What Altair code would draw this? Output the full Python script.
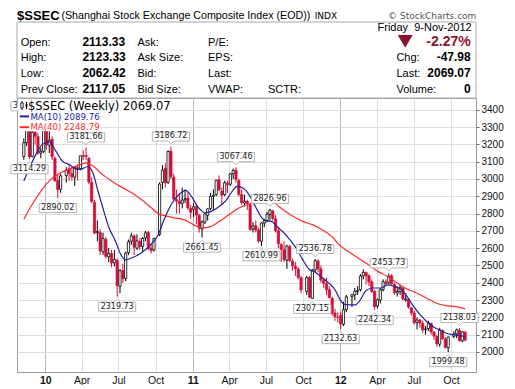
import altair as alt
import pandas as pd

# ---------------- weekly candles (week starting Monday) ----------------
weeks = [
    "2009-11-09", "2009-11-16", "2009-11-23", "2009-11-30", "2009-12-07", "2009-12-14", "2009-12-21", "2009-12-28",
    "2010-01-04", "2010-01-11", "2010-01-18", "2010-01-25", "2010-02-01", "2010-02-08", "2010-02-22",
    "2010-03-01", "2010-03-08", "2010-03-15", "2010-03-22", "2010-03-29", "2010-04-05", "2010-04-12",
    "2010-04-19", "2010-04-26", "2010-05-03", "2010-05-10", "2010-05-17", "2010-05-24", "2010-05-31",
    "2010-06-07", "2010-06-14", "2010-06-21", "2010-06-28", "2010-07-05", "2010-07-12", "2010-07-19",
    "2010-07-26", "2010-08-02", "2010-08-09", "2010-08-16", "2010-08-23", "2010-08-30", "2010-09-06",
    "2010-09-13", "2010-09-20", "2010-09-27", "2010-10-11", "2010-10-18", "2010-10-25", "2010-11-01",
    "2010-11-08", "2010-11-15", "2010-11-22", "2010-11-29", "2010-12-06", "2010-12-13", "2010-12-20",
    "2010-12-27",
    "2011-01-03", "2011-01-10", "2011-01-17", "2011-01-24", "2011-01-31", "2011-02-07", "2011-02-14",
    "2011-02-21", "2011-02-28", "2011-03-07", "2011-03-14", "2011-03-21", "2011-03-28", "2011-04-04",
    "2011-04-11", "2011-04-18", "2011-04-25", "2011-05-02", "2011-05-09", "2011-05-16", "2011-05-23",
    "2011-05-30", "2011-06-06", "2011-06-13", "2011-06-20", "2011-06-27", "2011-07-04", "2011-07-11",
    "2011-07-18", "2011-07-25", "2011-08-01", "2011-08-08", "2011-08-15", "2011-08-22", "2011-08-29",
    "2011-09-05", "2011-09-12", "2011-09-19", "2011-09-26", "2011-10-10", "2011-10-17", "2011-10-24",
    "2011-10-31", "2011-11-07", "2011-11-14", "2011-11-21", "2011-11-28", "2011-12-05", "2011-12-12",
    "2011-12-19", "2011-12-26",
    "2012-01-02", "2012-01-09", "2012-01-16", "2012-01-30", "2012-02-06", "2012-02-13", "2012-02-20",
    "2012-02-27", "2012-03-05", "2012-03-12", "2012-03-19", "2012-03-26", "2012-04-02", "2012-04-09",
    "2012-04-16", "2012-04-23", "2012-04-30", "2012-05-07", "2012-05-14", "2012-05-21", "2012-05-28",
    "2012-06-04", "2012-06-11", "2012-06-18", "2012-06-25", "2012-07-02", "2012-07-09", "2012-07-16",
    "2012-07-23", "2012-07-30", "2012-08-06", "2012-08-13", "2012-08-20", "2012-08-27", "2012-09-03",
    "2012-09-10", "2012-09-17", "2012-09-24", "2012-10-08", "2012-10-15", "2012-10-22", "2012-10-29",
    "2012-11-05",
]
opens = [
    3130, 3210, 3300, 3130, 3270, 3245, 3150, 3160,
    3290, 3195, 3230, 3120, 2990, 2940, 3020, 3060, 3030, 3010, 3065, 3060, 3135, 3135, 3120, 2980,
    2865, 2690, 2690, 2580, 2650, 2550, 2570, 2515, 2530, 2380, 2470, 2425, 2575, 2640, 2670, 2600,
    2640, 2610, 2660, 2690, 2600, 2590, 2680, 2980, 3060, 2980, 3160, 3010, 2880, 2870, 2860, 2880,
    2890, 2830,
    2825, 2840, 2790, 2710, 2750, 2790, 2830, 2900, 2910, 2995, 2930, 2910, 2975, 2970, 3030, 3050,
    2990, 2910, 2860, 2870, 2850, 2710, 2730, 2705, 2640, 2745, 2760, 2795, 2815, 2770, 2700, 2620,
    2590, 2530, 2610, 2525, 2495, 2480, 2430, 2350, 2430, 2310, 2475, 2525, 2480, 2415, 2395, 2360,
    2310, 2225, 2200,
    2210, 2160, 2245, 2320, 2330, 2350, 2360, 2440, 2460, 2440, 2405, 2350, 2265, 2300, 2360, 2405,
    2400, 2440, 2390, 2340, 2350, 2370, 2300, 2305, 2255, 2225, 2170, 2185, 2165, 2130, 2135, 2165,
    2115, 2090, 2045, 2125, 2075, 2025, 2090, 2105, 2125, 2065, 2113.33,
]
highs = [
    3235, 3311, 3361.39, 3290, 3310, 3265, 3180, 3285,
    3306, 3277, 3246, 3130, 3030, 3030, 3070, 3090, 3070, 3075, 3085, 3135, 3165, 3181.66, 3125, 3010,
    2880, 2760, 2710, 2690, 2665, 2600, 2590, 2590, 2540, 2480, 2510, 2580, 2650, 2690, 2680, 2680,
    2660, 2665, 2700, 2700, 2630, 2660, 2980, 3080, 3090, 3165, 3186.72, 3030, 2940, 2920, 2950, 2940,
    2920, 2850,
    2860, 2850, 2800, 2760, 2800, 2830, 2920, 2940, 2995, 3020, 2950, 2990, 2990, 3035, 3060, 3067.46,
    3000, 2940, 2910, 2880, 2860, 2750, 2760, 2720, 2750, 2770, 2810, 2826.96, 2822, 2790, 2720, 2630,
    2640, 2620, 2620, 2540, 2520, 2490, 2440, 2440, 2440, 2480, 2536.78, 2535, 2500, 2430, 2430, 2380,
    2320, 2250, 2230,
    2230, 2290, 2330, 2335, 2370, 2380, 2450, 2478, 2465, 2450, 2420, 2360, 2310, 2370, 2420, 2420,
    2453.73, 2450, 2400, 2380, 2390, 2380, 2340, 2310, 2260, 2240, 2200, 2190, 2180, 2150, 2180, 2170,
    2120, 2100, 2140, 2130, 2085, 2090, 2120, 2135, 2138.03, 2120, 2123.33,
]
lows = [
    3110, 3190, 3114.29, 3125, 3200, 3140, 3120, 3150,
    3170, 3150, 3110, 2985, 2890.02, 2920, 2980, 2990, 2990, 2960, 2990, 3050, 3110, 3110, 2970, 2860,
    2680, 2640, 2560, 2560, 2540, 2520, 2490, 2495, 2319.73, 2340, 2400, 2410, 2560, 2620, 2560, 2590,
    2590, 2580, 2640, 2590, 2570, 2580, 2670, 2940, 2950, 2970, 3000, 2880, 2800, 2800, 2830, 2860,
    2820, 2770,
    2780, 2740, 2690, 2661.45, 2740, 2760, 2820, 2820, 2900, 2930, 2850, 2900, 2920, 2960, 3000, 2980,
    2900, 2850, 2840, 2820, 2700, 2690, 2690, 2630, 2610.99, 2720, 2750, 2760, 2760, 2690, 2600, 2520,
    2520, 2480, 2520, 2470, 2440, 2420, 2340, 2330, 2310, 2307.15, 2460, 2460, 2400, 2370, 2330, 2310,
    2210, 2180, 2170,
    2132.63, 2150, 2230, 2260, 2300, 2330, 2350, 2420, 2390, 2380, 2340, 2242.34, 2250, 2280, 2350, 2380,
    2390, 2390, 2330, 2320, 2330, 2300, 2290, 2250, 2210, 2160, 2130, 2140, 2110, 2100, 2120, 2100,
    2070, 2030, 2030, 2070, 2020, 1999.48, 2080, 2080, 2060, 2055, 2062.42,
]
closes = [
    3210, 3308, 3128, 3270, 3247, 3150, 3160, 3277,
    3196, 3224, 3128, 2989, 2939, 3018, 3051, 3031, 3013, 3067, 3060, 3134, 3131, 3130, 2983, 2870,
    2688, 2697, 2584, 2656, 2553, 2569, 2514, 2535, 2383, 2470, 2424, 2572, 2637, 2672, 2606, 2642,
    2610, 2656, 2689, 2598, 2587, 2656, 2971, 3051, 2978, 3159, 3014, 2884, 2871, 2858, 2878, 2885,
    2833, 2808,
    2839, 2791, 2715, 2752, 2798, 2827, 2899, 2905, 2993, 2937, 2906, 2978, 2967, 3030, 3050, 2998,
    2911, 2864, 2871, 2858, 2709, 2728, 2705, 2642, 2746, 2759, 2797, 2820, 2772, 2701, 2626, 2593,
    2534, 2612, 2528, 2497, 2482, 2431, 2359, 2431, 2317, 2473, 2528, 2481, 2416, 2397, 2360, 2315,
    2224, 2204, 2199,
    2163, 2244, 2319, 2331, 2352, 2357, 2439, 2460, 2439, 2404, 2350, 2262, 2302, 2359, 2406, 2396,
    2438, 2394, 2344, 2350, 2373, 2306, 2306, 2260, 2225, 2169, 2185, 2168, 2128, 2133, 2168, 2116,
    2092, 2047, 2127, 2078, 2027, 2086, 2105, 2128, 2066, 2117.05, 2069.07,
]

# ---------------- moving averages ----------------
ma10_dates = [
    "2009-11-09", "2009-11-23", "2009-12-09", "2009-12-25", "2010-01-11", "2010-01-27", "2010-02-12",
    "2010-03-04", "2010-03-16", "2010-03-28", "2010-04-17", "2010-04-29", "2010-05-11", "2010-05-23",
    "2010-06-08", "2010-06-24", "2010-07-06", "2010-07-18", "2010-08-04", "2010-08-28", "2010-09-21",
    "2010-10-07", "2010-10-23", "2010-11-08", "2010-11-28", "2010-12-14", "2010-12-30", "2011-01-15",
    "2011-01-31", "2011-02-16", "2011-03-04", "2011-03-24", "2011-04-09", "2011-04-21", "2011-05-07",
    "2011-05-24", "2011-06-09", "2011-06-21", "2011-07-03", "2011-07-15", "2011-07-27", "2011-08-12",
    "2011-08-29", "2011-09-14", "2011-09-30", "2011-10-16", "2011-11-01", "2011-11-17", "2011-12-03",
    "2011-12-19", "2011-12-31", "2012-01-12", "2012-02-06", "2012-02-18", "2012-03-05", "2012-03-22",
    "2012-04-11", "2012-04-27", "2012-05-13", "2012-05-29", "2012-06-14", "2012-06-30", "2012-07-16",
    "2012-08-01", "2012-08-17", "2012-09-02", "2012-09-18", "2012-10-04", "2012-10-20", "2012-11-05",
]
ma10_vals = [
    2988, 3065, 3142, 3200, 3214, 3162, 3104, 3080, 3060, 3055, 3072, 3035, 2935, 2838,
    2717, 2640, 2568, 2533, 2545, 2575, 2625, 2675, 2770, 2850, 2910, 2934, 2895, 2835,
    2805, 2813, 2835, 2875, 2930, 2957, 2945, 2895, 2823, 2775, 2758, 2755, 2728, 2695,
    2650, 2600, 2534, 2478, 2460, 2430, 2400, 2360, 2305, 2275, 2272, 2295, 2355, 2370,
    2370, 2388, 2380, 2364, 2322, 2265, 2217, 2178, 2148, 2128, 2110, 2100, 2096, 2089.76,
]
ma40_dates = [
    "2009-11-09", "2009-11-27", "2009-12-21", "2010-01-14", "2010-02-07", "2010-03-04", "2010-03-28",
    "2010-04-13", "2010-04-29", "2010-05-23", "2010-06-16", "2010-07-11", "2010-08-04", "2010-08-28",
    "2010-09-21", "2010-10-07", "2010-10-23", "2010-11-16", "2010-12-10", "2011-01-03", "2011-01-27",
    "2011-02-12", "2011-03-08", "2011-04-01", "2011-04-25", "2011-05-15", "2011-06-05", "2011-06-25",
    "2011-07-19", "2011-08-12", "2011-09-06", "2011-09-30", "2011-10-24", "2011-11-17", "2011-12-11",
    "2011-12-27", "2012-01-20", "2012-02-14", "2012-03-10", "2012-04-03", "2012-04-27", "2012-05-21",
    "2012-06-14", "2012-07-08", "2012-08-01", "2012-08-25", "2012-09-18", "2012-10-13", "2012-11-05",
]
ma40_vals = [
    2767, 2842, 2928, 2996, 3035, 3060, 3083, 3093, 3075, 3025, 2986, 2950, 2919, 2880,
    2832, 2800, 2788, 2775, 2765, 2736, 2717, 2723, 2755, 2794, 2832, 2851, 2860, 2865,
    2861, 2823, 2784, 2755, 2736, 2707, 2668, 2625, 2582, 2543, 2505, 2466, 2437, 2399,
    2364, 2341, 2312, 2283, 2268, 2262, 2248.79,
]

# ---------------- annotated swing highs / lows ----------------
peak_dates = ["2009-11-23", "2010-04-12", "2010-11-08", "2011-04-18", "2011-07-11",
              "2011-10-31", "2012-04-30", "2012-10-22"]
peak_vals = [3361.39, 3181.66, 3186.72, 3067.46, 2826.96, 2536.78, 2453.73, 2138.03]
trough_dates = ["2009-11-23", "2010-02-01", "2010-06-28", "2011-01-24", "2011-06-20",
                "2011-10-24", "2012-01-02", "2012-03-26", "2012-09-24"]
trough_vals = [3114.29, 2890.02, 2319.73, 2661.45, 2610.99, 2307.15, 2132.63, 2242.34, 1999.48]

y_ticks = list(range(2000, 3500, 100))

# ---------------- header quote ----------------
quote_labels = ["Open:", "High:", "Low:", "Prev Close:"]
quote_values = ["2113.33", "2123.33", "2062.42", "2117.05"]
col3_labels = ["Ask:", "Ask Size:", "Bid:", "Bid Size:"]
col4_labels = ["P/E:", "EPS:", "Last:", "VWAP:"]
right_labels = ["Chg:", "Last:", "Volume:"]
right_values = ["-47.98", "2069.07", "0"]
pct_change = "-2.27%"
quote_date = "Friday\u00a0\u00a09-Nov-2012"

RED = "#d0103a"
BLACK = "#000000"

df = pd.DataFrame({"date": weeks, "open": opens, "high": highs, "low": lows, "close": closes})
prev = df["close"].shift(1)
prev.iloc[0] = df["open"].iloc[0]
df["col"] = [RED if c < p else BLACK for c, p in zip(df["close"], prev)]
df["fill"] = [col if c < o else "#ffffff" for col, c, o in zip(df["col"], df["close"], df["open"])]
df["lo"] = df[["open", "close"]].min(axis=1)
df["hi"] = df[["open", "close"]].max(axis=1)

ma10 = pd.DataFrame({"date": ma10_dates, "ma": ma10_vals})
ma40 = pd.DataFrame({"date": ma40_dates, "ma": ma40_vals})
peaks = pd.DataFrame({"date": peak_dates, "v": peak_vals})
troughs = pd.DataFrame({"date": trough_dates, "v": trough_vals})


def ms(s):
    return int(pd.Timestamp(s, tz="UTC").value // 10**6)


YEAR = "utcmonth(datum.value) == 0"
x_ticks = [ms(f"{y}-{m:02d}-01") for y in (2010, 2011, 2012) for m in (1, 4, 7, 10)]
xs = alt.Scale(type="utc", domain=[ms("2009-11-04T12:00"), ms("2012-11-19T12:00")])
ys = alt.Scale(domain=[1884.4, 3468], nice=False, zero=False)

x_axis = alt.Axis(
    values=x_ticks,
    labelExpr="utcmonth(datum.value) == 0 ? utcFormat(datum.value, '%y') : utcFormat(datum.value, '%b')",
    labelFontWeight={"condition": {"test": YEAR, "value": "bold"}, "value": "normal"},
    gridColor={"condition": {"test": YEAR, "value": "#b9b9b9"}, "value": "#dedede"},
    grid=True, ticks=False, labelPadding=3, labelFont="Liberation Sans", labelFontSize=10.5,
    labelColor="#111", domainColor="#999", title=None, labelFlush=False, labelOverlap=False,
)
y_axis = alt.Axis(
    orient="right", values=y_ticks, format="d", grid=True, gridColor="#dedede",
    tickSize=3, tickColor="#666", labelPadding=2, labelFont="Liberation Sans", labelFontSize=10,
    labelColor="#111", domainColor="#999", title=None,
)

X = alt.X("date:T", scale=xs, axis=x_axis, title=None)


def Y(field):
    return alt.Y(field, scale=ys, axis=y_axis, title=None)


wick = alt.Chart(df).mark_rule(strokeWidth=1).encode(
    x=X, y=Y("low:Q"), y2="high:Q", color=alt.Color("col:N", scale=None))
body = alt.Chart(df).mark_bar(size=2.2, strokeWidth=0.8).encode(
    x=X, y=Y("lo:Q"), y2="hi:Q",
    fill=alt.Fill("fill:N", scale=None), stroke=alt.Stroke("col:N", scale=None))

line40 = alt.Chart(ma40).mark_line(color="#ff2a2a", strokeWidth=1.2, interpolate="monotone").encode(
    x=X, y=Y("ma:Q"))
line10 = alt.Chart(ma10).mark_line(color="#22229a", strokeWidth=1.2, interpolate="monotone").encode(
    x=X, y=Y("ma:Q"))

PEAK = "M-0.93,-0.73 L0.93,-0.73 L0.93,-0.28 L0.15,-0.28 L0,-0.13 L-0.15,-0.28 L-0.93,-0.28 Z"
TROUGH = "M-0.93,0.73 L0.93,0.73 L0.93,0.28 L0.15,0.28 L0,0.13 L-0.15,0.28 L-0.93,0.28 Z"


def tag(data, shape, dy):
    box = alt.Chart(data).mark_point(shape=shape, size=1600, filled=True, fill="white",
                                     stroke="#b5b5b5", strokeWidth=1, opacity=1).encode(x=X, y=Y("v:Q"))
    t = alt.Chart(data).mark_text(dy=dy, baseline="middle", font="DejaVu Sans", fontSize=8,
                                  color="#222").encode(x=X, y=Y("v:Q"), text=alt.Text("v:Q", format=".2f"))
    return [box, t]


dummy = pd.DataFrame({"k": [0]})


def txt(s, x, y, size=11, weight="normal", align="left", color="#000", font="Liberation Sans"):
    return alt.Chart(dummy).mark_text(text=s, align=align, baseline="alphabetic", fontSize=size,
                                      fontWeight=weight, color=color, font=font).encode(
        x=alt.value(x), y=alt.value(y))


def rect(x, x2, y, y2, **kw):
    return alt.Chart(dummy).mark_rect(**kw).encode(
        x=alt.value(x), x2=alt.value(x2), y=alt.value(y), y2=alt.value(y2))


def hrule(x, x2, y, color, w):
    return alt.Chart(dummy).mark_rule(color=color, strokeWidth=w).encode(
        x=alt.value(x), x2=alt.value(x2), y=alt.value(y))


def vrule(x, y, y2, color, w=1):
    return alt.Chart(dummy).mark_rule(color=color, strokeWidth=w).encode(
        x=alt.value(x), y=alt.value(y), y2=alt.value(y2))


layers = [wick, body, line40, line10]
layers += tag(peaks, PEAK, -10.2)
layers += tag(troughs, TROUGH, 10.2)

# legend (white backing behind each text line)
layers += [
    rect(1, 155, 1, 12.5, fill="white"),
    rect(1, 84, 12.5, 33.3, fill="white"),
    vrule(5, 3, 12, BLACK), rect(3.8, 6.2, 5, 10, fill="white", stroke=BLACK, strokeWidth=0.8),
    vrule(9.5, 4, 11, BLACK), rect(8.6, 10.4, 6, 9, fill=BLACK),
    txt("$SSEC (Weekly) 2069.07", 11, 11.6, 11.5, font="DejaVu Sans"),
    hrule(2.7, 12, 18.4, "#22229a", 2),
    txt("MA(10) 2089.76", 13.4, 21.8, 8.6, color="#22229a", font="DejaVu Sans"),
    hrule(2.7, 12, 29.2, "#ff2a2a", 2),
    txt("MA(40) 2248.79", 13.4, 32.3, 8.6, color="#ff2a2a", font="DejaVu Sans"),
]

# header
HB = -76.0
layers += [
    rect(0, 459, HB, 0, fillOpacity=0, stroke="#a8a8a8", strokeWidth=1),
    txt("$SSEC", 0, -78.4, 13, "bold"),
    txt("(Shanghai Stock Exchange Composite Index (EOD))", 44.4, -78.6, 10.7),
    txt("INDX", 297.7, -79.0, 9, font="DejaVu Sans"),
    txt("\u00a9 StockCharts.com", 459.4, -78.6, 9, align="right", color="#555", font="DejaVu Sans"),
    txt(quote_date, 454.7, -67.3, 11, align="right"),
]
rows = [-52, -36.6, -21, -4.6]
for i, yb in enumerate(rows):
    layers.append(txt(quote_labels[i], 3.7, yb, 11))
    layers.append(txt(quote_values[i], 65.4, yb, 12, "bold"))
    layers.append(txt(col3_labels[i], 120.4, yb, 11))
    layers.append(txt(col4_labels[i], 191, yb, 11))
layers.append(txt("SCTR:", 251, rows[3], 11))
for i in range(3):
    layers.append(txt(right_labels[i], 379.4, rows[i + 1], 11))
    layers.append(txt(right_values[i], 453.7, rows[i + 1], 12, "bold", align="right"))
layers.append(
    alt.Chart(dummy).mark_point(shape="M-1,-0.8 L1,-0.8 L0,0.9 Z", size=225, filled=True,
                                color="#8c1230", opacity=1).encode(x=alt.value(388.2), y=alt.value(-57)))
layers.append(txt(pct_change, 453.7, -52, 14, "bold", align="right", color="#8c1230"))

chart = alt.layer(*layers).properties(
    width=459, height=274,
    autosize=alt.AutoSizeParams(type="none"),
    padding={"left": 9, "top": 90, "right": 31, "bottom": 13},
).configure_view(stroke="#a0a0a0", strokeWidth=1)

chart.save("out.html", embed_options={"renderer": "svg", "actions": False})
